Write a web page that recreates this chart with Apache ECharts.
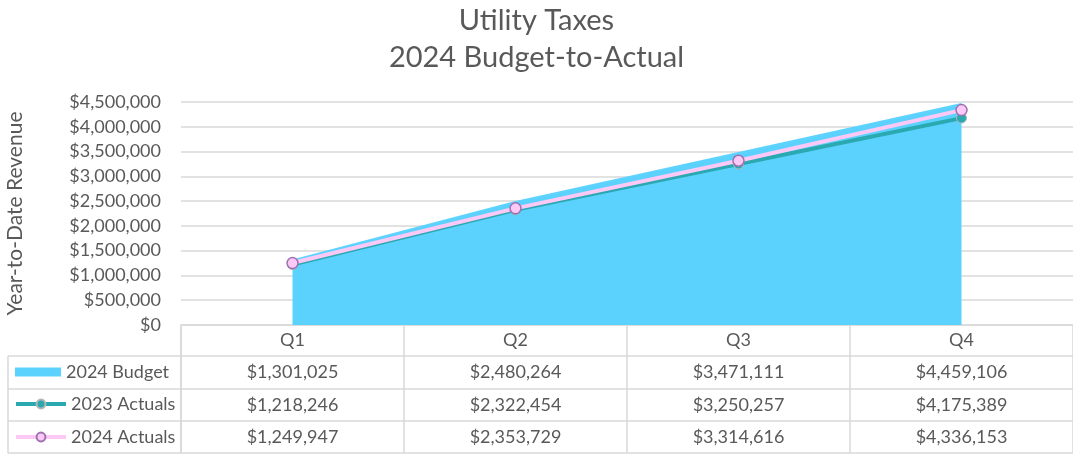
<!DOCTYPE html>
<html><head><meta charset="utf-8">
<script src="https://cdn.jsdelivr.net/npm/echarts@6/dist/echarts.min.js"></script>
<style>html,body{margin:0;padding:0;background:#fff}#c{width:1073px;height:455px}</style>
</head><body><div id="c"></div>
<script>
var categories = ['Q1', 'Q2', 'Q3', 'Q4'];
var budget2024 = [1301025, 2480264, 3471111, 4459106];
var actuals2023 = [1218246, 2322454, 3250257, 4175389];
var actuals2024 = [1249947, 2353729, 3314616, 4336153];
var seriesNames = ['2024 Budget', '2023 Actuals', '2024 Actuals'];

var FONT = 'Lato';
var FS = 18;
var TXT = '#595959';
var GRID = '#d9d9d9';
function money(v) { return '$' + Number(v).toLocaleString('en-US'); }

var chart = echarts.init(document.getElementById('c'));
var tableRows = [budget2024, actuals2023, actuals2024];
var offsets = [31, 64, 96];
var xAxes = [{
  type: 'category', data: categories, position: 'bottom', boundaryGap: true,
  axisLine: { show: true, lineStyle: { color: GRID, width: 1.5 } },
  axisTick: { show: true, interval: 0, length: 128, lineStyle: { color: GRID, width: 1.5 } },
  axisLabel: { margin: 6, color: TXT, fontSize: FS, fontFamily: FONT },
  splitLine: { show: false }
}];
tableRows.forEach(function (row, r) {
  xAxes.push({
    type: 'category', data: categories, position: 'bottom', offset: offsets[r],
    axisLine: { show: true, lineStyle: { color: GRID, width: 1.5 } },
    axisTick: { show: false },
    axisLabel: { margin: 7, color: TXT, fontSize: FS, fontFamily: FONT,
      formatter: function (v, i) { return money(row[i]); } },
    splitLine: { show: false }
  });
});
xAxes.push({
  type: 'category', data: categories, position: 'bottom', offset: 128,
  axisLine: { show: true, lineStyle: { color: GRID, width: 1.5 } },
  axisTick: { show: false }, axisLabel: { show: false }, splitLine: { show: false }
});

var legendTops = [358, 390, 423];
var option = {
  animation: false,
  textStyle: { fontFamily: FONT },
  title: {
    text: 'Utility Taxes\n2024 Budget-to-Actual', left: 'center', top: -3,
    textStyle: { fontSize: 29, fontWeight: 'normal', color: TXT, fontFamily: FONT, lineHeight: 37 }
  },
  grid: { left: 181, right: 0, top: 102, bottom: 130, containLabel: false, outerBoundsMode: 'none' },
  xAxis: xAxes,
  yAxis: {
    type: 'value', min: 0, max: 4500000, interval: 500000,
    name: 'Year-to-Date Revenue', nameLocation: 'middle', nameRotate: 90, nameGap: 155,
    nameTextStyle: { color: TXT, fontSize: 21, fontFamily: FONT },
    axisLine: { show: false }, axisTick: { show: false },
    axisLabel: { margin: 20, color: TXT, fontSize: FS, fontFamily: FONT, formatter: money },
    splitLine: { lineStyle: { color: GRID, width: 1.5 } }
  },
  legend: seriesNames.map(function (n, i) {
    return {
      data: i === 0 ? [{ name: n, icon: 'rect' }] : [n],
      orient: 'vertical', left: i === 0 ? 10 : 9, top: legendTops[i],
      itemWidth: i === 0 ? 46 : 50, itemHeight: i === 0 ? 9 : 11, itemGap: 5,
      selectedMode: false,
      lineStyle: { width: 4 },
      textStyle: { color: TXT, fontSize: FS, fontFamily: FONT }
    };
  }),
  graphic: [
    { type: 'line', shape: { x1: 8, y1: 356, x2: 181, y2: 356 }, style: { stroke: GRID, lineWidth: 1.5 } },
    { type: 'line', shape: { x1: 8, y1: 389, x2: 181, y2: 389 }, style: { stroke: GRID, lineWidth: 1.5 } },
    { type: 'line', shape: { x1: 8, y1: 421, x2: 181, y2: 421 }, style: { stroke: GRID, lineWidth: 1.5 } },
    { type: 'line', shape: { x1: 8, y1: 453, x2: 181, y2: 453 }, style: { stroke: GRID, lineWidth: 1.5 } },
    { type: 'line', shape: { x1: 8, y1: 356, x2: 8, y2: 453 }, style: { stroke: GRID, lineWidth: 1.5 } },
    { type: 'line', shape: { x1: 181, y1: 325, x2: 181, y2: 453 }, style: { stroke: GRID, lineWidth: 1.5 } }
  ],
  series: [
    {
      name: seriesNames[0], type: 'line', data: budget2024, xAxisIndex: 0, z: 1,
      showSymbol: false, symbol: 'none',
      lineStyle: { color: '#5fd3ff', width: 2 },
      itemStyle: { color: '#5ad2fd' },
      areaStyle: { color: '#5ad2fd', opacity: 1 }
    },
    {
      name: seriesNames[1], type: 'line', data: actuals2023, xAxisIndex: 0, z: 2,
      symbol: 'circle', symbolSize: 10,
      lineStyle: { color: '#2aa9b1', width: 4 },
      itemStyle: { color: '#2aa9b1', borderColor: '#b5b5b5', borderWidth: 1 }
    },
    {
      name: seriesNames[2], type: 'line', data: actuals2024, xAxisIndex: 0, z: 3,
      symbol: 'circle', symbolSize: 11,
      lineStyle: { color: '#fcc8f6', width: 4 },
      itemStyle: { color: '#fcc8f6', borderColor: '#9c72b0', borderWidth: 1.5 }
    }
  ]
};
chart.setOption(option);
</script></body></html>
